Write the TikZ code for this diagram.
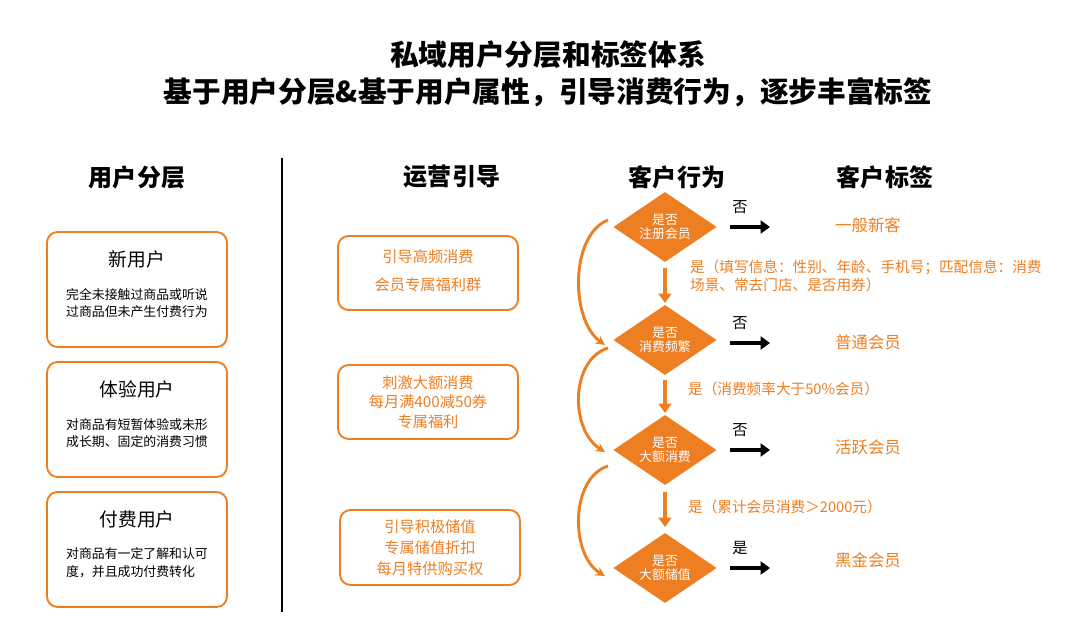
\documentclass[tikz,border=0pt]{standalone}
\usepackage{fontspec}
\setmainfont{Noto Sans CJK SC}
\usetikzlibrary{arrows.meta,shapes.geometric}
\definecolor{org}{HTML}{EE7E22}
\tikzset{
 px/.style={x=0.03cm,y=-0.03cm},
 box/.style={draw=org,line width=1.6pt,rounded corners=9pt},
 dia/.style={diamond,fill=org,aspect=1.5,minimum width=3.1cm,minimum height=2.1cm,inner sep=0pt,text=white,font=\fontsize{11}{12.5}\selectfont,align=center},
 ot/.style={text=org,font=\fontsize{12.5}{15}\selectfont,anchor=west},
 tg/.style={text=org,font=\fontsize{14}{16}\selectfont},
 hd/.style={font=\bfseries\fontsize{20.5}{23}\selectfont},
 blk/.style={line width=2.8pt,-{Triangle[length=8pt,width=11pt]}},
 dn/.style={org,line width=3pt,-{Triangle[length=8pt,width=11pt]}},
 cv/.style={org,line width=2.5pt,-{Stealth[length=8pt,width=8pt]}},
}
\begin{document}
\begin{tikzpicture}[px]
\useasboundingbox (0,0) rectangle (1080,624);
\node[font=\bfseries\fontsize{24.5}{28}\selectfont] (t1) at (548,55) {私域用户分层和标签体系};
\node[font=\bfseries\fontsize{24.5}{28}\selectfont] (t2) at (548,92) {基于用户分层\&基于用户属性，引导消费行为，逐步丰富标签};
\node[hd] (h1) at (137,177) {用户分层};
\node[hd] (h2) at (452,177) {运营引导};
\node[hd] (h3) at (677,177) {客户行为};
\node[hd] (h4) at (885,177) {客户标签};
\coordinate (la) at (282,158); \coordinate (lb) at (282,612);
\draw[line width=1.2pt] (la) -- (lb);
% left boxes
\foreach \y/\t/\a/\b [count=\i] in {232/新用户/完全未接触过商品或听说/过商品但未产生付费行为,362/体验用户/对商品有短暂体验或未形/成长期、固定的消费习惯,492/付费用户/对商品有一定了解和认可/度，并且成功付费转化}{
 \draw[box] (47,\y) rectangle (227,\y+115);
 \node[font=\fontsize{16}{19}\selectfont] (lt\i) at (137,\y+27) {\t};
 \node[font=\fontsize{11}{15}\selectfont,align=left] (ld\i) at (137,\y+71) {\a\\\b};
}
% middle boxes
\draw[box] (338,236) rectangle (518,310);
\node[text=org,font=\fontsize{13}{24}\selectfont,align=center] (m1) at (428,271) {引导高频消费\\会员专属福利群};
\draw[box] (338,365) rectangle (518,439);
\node[text=org,font=\fontsize{13}{16.5}\selectfont,align=center] (m2) at (428,402) {刺激大额消费\\每月满400减50券\\专属福利};
\draw[box] (340,510) rectangle (520,585);
\node[text=org,font=\fontsize{13}{18}\selectfont,align=center] (m3) at (430,548) {引导积极储值\\专属储值折扣\\每月特供购买权};
% diamonds
\node[dia] (d1) at (665,227) {是否\\注册会员};
\node[dia] (d2) at (665,340) {是否\\消费频繁};
\node[dia] (d3) at (665,450) {是否\\大额消费};
\node[dia] (d4) at (665,568) {是否\\大额储值};
% tags
\node[tg] (g1) at (868,225) {一般新客};
\node[tg] (g2) at (868,342) {普通会员};
\node[tg] (g3) at (868,447) {活跃会员};
\node[tg] (g4) at (868,560) {黑金会员};
\foreach \i/\y/\w in {1/227/否,2/343/否,3/450/否,4/568/是}{
 \coordinate (s\i) at (730,\y); \coordinate (e\i) at (770,\y);
 \draw[blk] (s\i) -- (e\i);
 \node[font=\fontsize{13}{15}\selectfont] (w\i) at (740,\y-20) {\w};
}
% down arrows
\coordinate (a1) at (665,268); \coordinate (b1) at (665,303);
\coordinate (a2) at (665,380); \coordinate (b2) at (665,413);
\coordinate (a3) at (665,492); \coordinate (b3) at (665,527);
\foreach \i in {1,2,3}{\draw[dn] (a\i) -- (b\i);}
\node[ot,align=left] (y1) at (686,276) {是（填写信息：性别、年龄、手机号；匹配信息：消费\\场景、常去门店、是否用券）};
\node[ot] (y2) at (684,389) {是（消费频率大于50\%会员）};
\node[ot] (y3) at (684,507) {是（累计会员消费＞2000元）};
% curved arrows
\coordinate (c1) at (608,220); \coordinate (c2) at (605,345);
\coordinate (c3) at (608,348); \coordinate (c4) at (605,452);
\coordinate (c5) at (608,466); \coordinate (c6) at (605,576);
\draw[cv] (c1) .. controls (570,235) and (570,320) .. (c2);
\draw[cv] (c3) .. controls (570,360) and (570,430) .. (c4);
\draw[cv] (c5) .. controls (570,478) and (570,555) .. (c6);
\end{tikzpicture}
\end{document}
